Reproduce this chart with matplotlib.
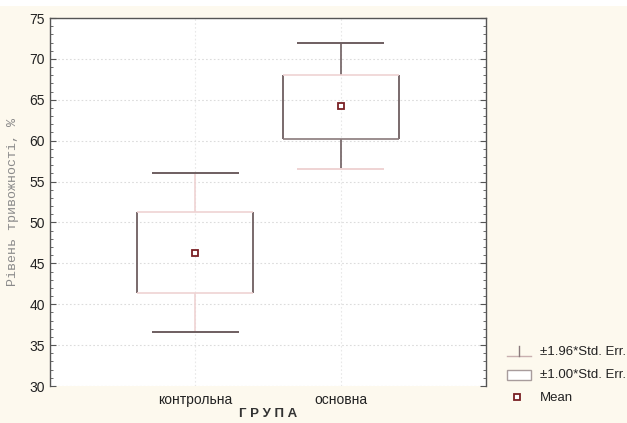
import numpy as np
import matplotlib
matplotlib.use('Agg')
import matplotlib.pyplot as plt
from matplotlib.lines import Line2D
from matplotlib.patches import Rectangle

groups = ['контрольна', 'основна']
means = [46.3, 64.2]
se_lo = [41.4, 60.2]     # mean - 1.00*SE
se_hi = [51.3, 68.0]     # mean + 1.00*SE
ci_lo = [36.6, 56.5]     # mean - 1.96*SE
ci_hi = [56.1, 72.0]     # mean + 1.96*SE

legend_labels = ['±1.96*Std. Err.', '±1.00*Std. Err.', 'Mean']

W, H = 627, 423
fig = plt.figure(figsize=(W / 100, H / 100), dpi=100)
fig.patch.set_facecolor('#fdf9ee')
fig.patches.append(Rectangle((0, 1 - 6 / H), 1, 6 / H, transform=fig.transFigure,
                             facecolor='white', edgecolor='none'))

ax = fig.add_axes([50 / W, (H - 386) / H, 436 / W, 368 / H])
ax.set_facecolor('white')

x = np.arange(1, len(groups) + 1)
dark = '#6e5e60'
pale = '#efd3d3'

# grid
ax.set_ylim(30, 75)
ax.set_xlim(0, 3)
ax.set_yticks(np.arange(30, 76, 5))
ax.set_yticks(np.arange(30, 76, 1), minor=True)
ax.yaxis.grid(True, linestyle=(0, (1.5, 2)), color='#dcdcdc', linewidth=0.8)
ax.xaxis.grid(True, linestyle=(0, (1.5, 2)), color='#e8e8e8', linewidth=0.8)
ax.set_axisbelow(True)

# whiskers (±1.96 SE)
whisk_col = [pale, dark]
ax.vlines(x, ci_lo, se_lo, colors=whisk_col, linewidth=1.2, zorder=3)
ax.vlines(x, se_hi, ci_hi, colors=whisk_col, linewidth=1.2, zorder=3)
ax.hlines(ci_hi, x - 0.3, x + 0.3, colors=[dark, dark], linewidth=1.4, zorder=3)
ax.hlines(ci_lo, x - 0.3, x + 0.3, colors=[dark, pale], linewidth=1.4, zorder=3)

# boxes (±1.00 SE)
ax.vlines(x - 0.4, se_lo, se_hi, colors=dark, linewidth=1.3, zorder=3)
ax.vlines(x + 0.4, se_lo, se_hi, colors=dark, linewidth=1.3, zorder=3)
ax.hlines(se_hi, x - 0.4, x + 0.4, colors=[pale, pale], linewidth=1.2, zorder=3)
ax.hlines(se_lo, x - 0.4, x + 0.4, colors=[pale, '#8a7a7c'], linewidth=1.2, zorder=3)

# means
ax.plot(x, means, linestyle='none', marker='s', markersize=5, markerfacecolor='white',
        markeredgecolor='#7a2024', markeredgewidth=1.3, zorder=4)

ax.set_xticks(x)
ax.set_xticklabels(groups, fontsize=10, family='Liberation Sans', color='#222222')
ax.tick_params(axis='x', length=0, pad=5)
ax.tick_params(axis='y', which='both', direction='in', right=True, labelsize=10,
               labelcolor='#222222', colors='#555555')
for lab in ax.get_yticklabels():
    lab.set_family('Liberation Sans')
ax.tick_params(axis='y', which='major', length=4, width=0.8)
ax.tick_params(axis='y', which='minor', length=2, width=0.6)
for s in ax.spines.values():
    s.set_color('#555555')
    s.set_linewidth(1.0)
ax.spines['bottom'].set_visible(False)

ax.set_xlabel('Г Р У П А', fontsize=9.5, family='Liberation Sans', fontweight='bold',
              color='#333333', labelpad=1)
ax.set_ylabel('Рівень тривожності, %', fontsize=9.5, family='Liberation Mono',
              color='#8a8a8a', labelpad=8)

# legend drawn in pixel coordinates
def px(xp, yp):
    return xp / W, 1 - yp / H

leg_col = '#c9b0b0'
fig.add_artist(Line2D([px(507, 0)[0], px(531, 0)[0]], [px(0, 356)[1]] * 2,
                      color=leg_col, linewidth=1.0))
fig.add_artist(Line2D([px(519, 0)[0]] * 2, [px(0, 346)[1], px(0, 356)[1]],
                      color='#8a7a7c', linewidth=1.0))
fig.add_artist(Rectangle(px(507, 380), 24 / W, 10 / H, transform=fig.transFigure,
                         facecolor='white', edgecolor='#a89c9c', linewidth=1.0))
fig.add_artist(Line2D([px(517, 0)[0]], [px(0, 397)[1]], linestyle='none', marker='s',
                      markersize=5, markerfacecolor='white', markeredgecolor='#7a2024',
                      markeredgewidth=1.3))
for i, lab in enumerate(legend_labels):
    fig.text(*px(540, 352 + 23 * i), lab, fontsize=9.5, family='Liberation Sans',
             color='#222222', va='center', ha='left')

fig.savefig('out.png', dpi=100, facecolor=fig.get_facecolor())
